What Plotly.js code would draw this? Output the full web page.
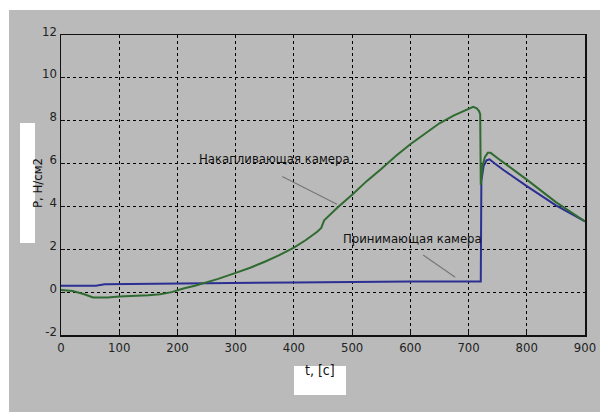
<!DOCTYPE html>
<html>
<head>
<meta charset="utf-8">
<script src="https://cdn.plot.ly/plotly-3.0.1.min.js"></script>
<style>html,body{margin:0;padding:0;background:#fff;}#chart{width:600px;height:412px;}</style>
</head>
<body>
<div id="chart"></div>
<script>
// Накапливающая камера (green)
const tGreen = [0, 20, 40, 55, 80, 100, 150, 170, 190, 210, 230, 250, 270, 300, 325, 350, 375, 400, 420, 440, 447, 452, 475, 500, 525, 550, 575, 600, 625, 650, 675, 700, 708, 714, 718, 720, 721, 724, 728, 733, 738, 750, 800, 850, 900];
const pGreen = [0.1, 0.05, -0.1, -0.25, -0.25, -0.2, -0.15, -0.1, 0.0, 0.17, 0.3, 0.45, 0.62, 0.9, 1.14, 1.42, 1.73, 2.08, 2.42, 2.82, 3.0, 3.35, 3.95, 4.55, 5.18, 5.75, 6.35, 6.9, 7.4, 7.88, 8.25, 8.55, 8.65, 8.58, 8.45, 8.3, 5.0, 5.9, 6.3, 6.5, 6.5, 6.25, 5.25, 4.2, 3.3];
// Принимающая камера (blue)
const tBlue = [0, 60, 75, 150, 250, 400, 500, 600, 720, 721, 722, 726, 731, 736, 745, 760, 800, 850, 900];
const pBlue = [0.3, 0.3, 0.37, 0.38, 0.42, 0.45, 0.48, 0.5, 0.5, 0.5, 5.2, 5.9, 6.15, 6.2, 6.0, 5.7, 4.95, 4.05, 3.3];
const xTicks = [0, 100, 200, 300, 400, 500, 600, 700, 800, 900];
const yTicks = [-2, 0, 2, 4, 6, 8, 10, 12];
const labelGreen = "Накапливающая камера";
const labelBlue = "Принимающая камера";
const xTitle = "t, [c]";
const yTitle = "P, Н/см2";

const FONT = "'DejaVu Sans Condensed', 'Liberation Sans Narrow', 'Arial Narrow', 'Liberation Sans', Arial, sans-serif";

const traces = [
  {x: tBlue, y: pBlue, mode: 'lines', line: {color: '#2b2f92', width: 2}, hoverinfo: 'skip'},
  {x: tGreen, y: pGreen, mode: 'lines', line: {color: '#2f6b30', width: 2}, hoverinfo: 'skip'}
];

const axisCommon = {
  showgrid: true, gridcolor: '#000', griddash: 'dot', gridwidth: 1,
  showline: true, linecolor: '#111', linewidth: 1.5, mirror: true,
  ticks: 'inside', ticklen: 4, tickcolor: '#111',
  zeroline: false,
  tickfont: {family: FONT, size: 13, color: '#222'}
};

const layout = {
  width: 600, height: 412,
  paper_bgcolor: '#ffffff',
  plot_bgcolor: '#ffffff',
  showlegend: false,
  margin: {l: 61, r: 15, t: 35, b: 77},
  xaxis: Object.assign({}, axisCommon, {range: [0, 900], tickvals: xTicks, ticktext: xTicks.map(String)}),
  yaxis: Object.assign({}, axisCommon, {range: [-2, 12], tickvals: yTicks, ticktext: yTicks.map(String), ticklabelshift: -4}),
  shapes: [
    {type: 'rect', xref: 'paper', yref: 'paper', layer: 'below',
     x0: -52/524, x1: 539/524, y0: -77/300, y1: 325/300,
     fillcolor: '#bababa', line: {width: 0}},
    {type: 'rect', xref: 'paper', yref: 'paper', layer: 'below',
     x0: -41/524, x1: -26/524, y0: (335-243)/300, y1: (335-123)/300,
     fillcolor: '#ffffff', line: {width: 0}},
    {type: 'rect', xref: 'paper', yref: 'paper', layer: 'below',
     x0: 233/524, x1: 285/524, y0: -(395-335)/300, y1: -(366-335)/300,
     fillcolor: '#ffffff', line: {width: 0}},
    {type: 'line', xref: 'x', yref: 'y', x0: 380, y0: 5.4, x1: 474, y1: 4.1, line: {color: '#777', width: 1.2}},
    {type: 'line', xref: 'x', yref: 'y', x0: 622, y0: 1.73, x1: 677, y1: 0.7, line: {color: '#777', width: 1.2}}
  ],
  annotations: [
    {xref: 'x', yref: 'y', x: 366, y: 6.25, text: labelGreen, showarrow: false,
     font: {family: FONT, size: 13, color: '#111'}},
    {xref: 'x', yref: 'y', x: 603, y: 2.5, text: labelBlue, showarrow: false,
     font: {family: FONT, size: 13, color: '#111'}},
    {xref: 'paper', yref: 'paper', x: 259/524, y: -(380-335)/300, text: xTitle, showarrow: false,
     font: {family: FONT, size: 14, color: '#111'}},
    {xref: 'paper', yref: 'paper', x: -33.5/524, y: (335-183)/300, text: yTitle, showarrow: false, textangle: -90,
     font: {family: FONT, size: 13, color: '#111'}}
  ]
};

Plotly.newPlot('chart', traces, layout, {staticPlot: true, displayModeBar: false});
</script>
</body>
</html>
